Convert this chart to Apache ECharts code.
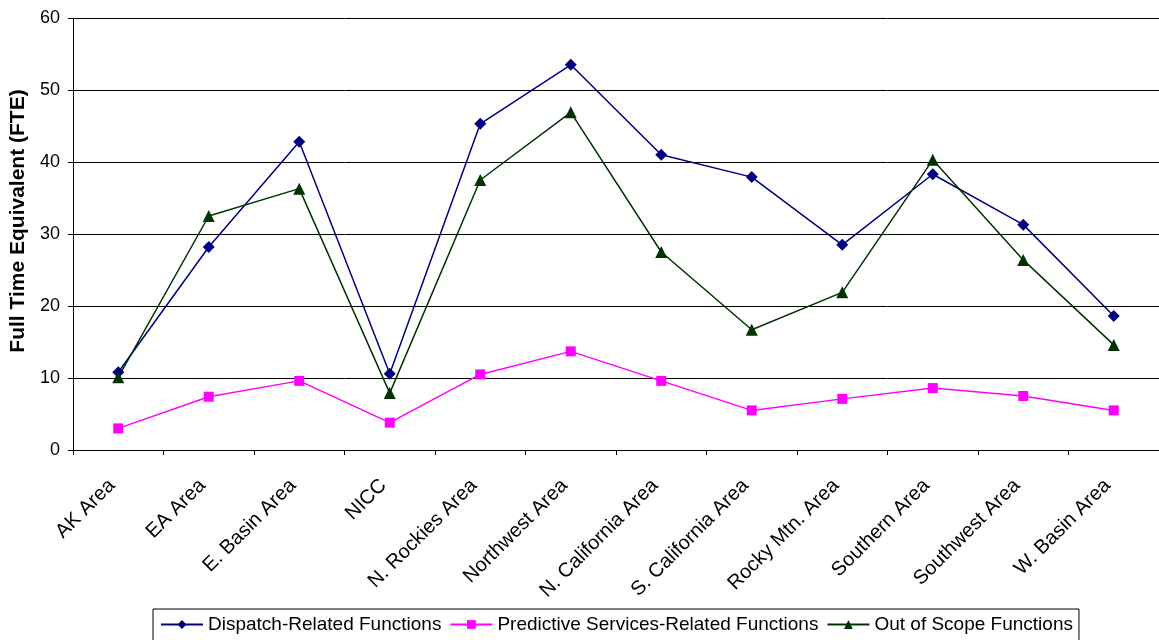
<!DOCTYPE html>
<html>
<head>
<meta charset="utf-8">
<script src="https://cdn.jsdelivr.net/npm/echarts@6/dist/echarts.min.js"></script>
<style>
  html, body { margin: 0; padding: 0; background: #fff; }
  #chart { width: 1159px; height: 640px; }
</style>
</head>
<body>
<div id="chart"></div>
<script>
// Regional staffing, in full time equivalents
const categories = ['AK Area', 'EA Area', 'E. Basin Area', 'NICC', 'N. Rockies Area', 'Northwest Area',
  'N. California Area', 'S. California Area', 'Rocky Mtn. Area', 'Southern Area', 'Southwest Area', 'W. Basin Area'];
const dispatchRelated = [10.8, 28.2, 42.8, 10.6, 45.3, 53.5, 41.0, 37.9, 28.5, 38.3, 31.3, 18.6];
const predictiveRelated = [3.0, 7.4, 9.6, 3.8, 10.5, 13.7, 9.6, 5.5, 7.1, 8.6, 7.5, 5.5];
const outOfScope = [10.1, 32.5, 36.3, 7.9, 37.5, 46.9, 27.5, 16.7, 21.9, 40.3, 26.4, 14.6];
const yTicks = { min: 0, max: 60, interval: 10 };

const font = 'Liberation Sans, Arial, sans-serif';

function lineSeries(name, data, color, symbol, size) {
  return {
    name: name,
    type: 'line',
    data: data,
    symbol: symbol,
    symbolSize: size,
    lineStyle: { color: color, width: 1.5 },
    itemStyle: { color: color },
    emphasis: { disabled: true },
    animation: false
  };
}

const chart = echarts.init(document.getElementById('chart'), null, { renderer: 'canvas' });
chart.setOption({
  backgroundColor: '#ffffff',
  animation: false,
  grid: { left: 73, right: 0, top: 18, bottom: 190, containLabel: false },
  xAxis: {
    type: 'category',
    data: categories,
    boundaryGap: true,
    axisLine: { lineStyle: { color: '#000', width: 1 } },
    axisTick: { show: true, length: 5, inside: false, lineStyle: { color: '#000' } },
    axisLabel: { rotate: 45, margin: 26, padding: [0, 9, 0, 0], color: '#000', fontFamily: font, fontSize: 20, interval: 0 },
    splitLine: { show: false }
  },
  yAxis: {
    type: 'value',
    min: yTicks.min,
    max: yTicks.max,
    interval: yTicks.interval,
    name: 'Full Time Equivalent (FTE)',
    nameLocation: 'middle',
    nameGap: 44,
    nameTextStyle: { color: '#000', fontFamily: font, fontSize: 21, fontWeight: 'bold', padding: [0, 0, 0, 26] },
    axisLine: { show: true, lineStyle: { color: '#000', width: 1 } },
    axisTick: { show: true, length: 5, lineStyle: { color: '#000' } },
    axisLabel: { color: '#000', fontFamily: font, fontSize: 18, margin: 13 },
    splitLine: { show: true, lineStyle: { color: '#000', width: 1 } }
  },
  legend: {
    left: 153,
    top: 609,
    orient: 'horizontal',
    padding: [6, 6, 12, 7],
    itemGap: 8,
    itemWidth: 42,
    itemHeight: 11,
    borderColor: '#000',
    borderWidth: 1,
    textStyle: { color: '#000', fontFamily: font, fontSize: 19 },
    data: ['Dispatch-Related Functions', 'Predictive Services-Related Functions', 'Out of Scope Functions']
  },
  series: [
    lineSeries('Dispatch-Related Functions', dispatchRelated, '#000080', 'diamond', 12),
    lineSeries('Predictive Services-Related Functions', predictiveRelated, '#ff00ff', 'rect', 10),
    lineSeries('Out of Scope Functions', outOfScope, '#003300', 'triangle', 12)
  ]
});
</script>
</body>
</html>
